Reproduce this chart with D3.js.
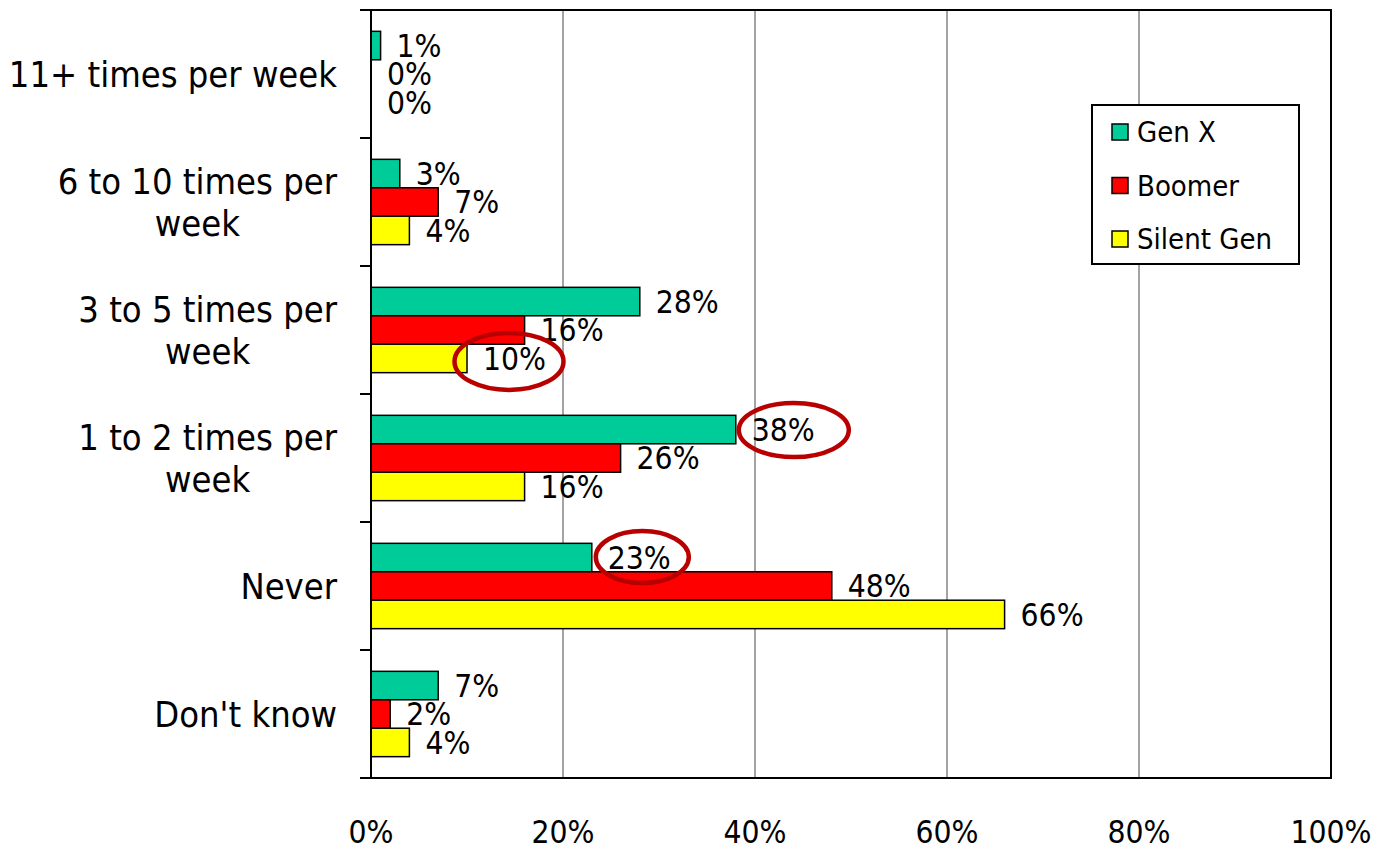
<!DOCTYPE html>
<html>
<head>
<meta charset="utf-8">
<script src="https://cdn.jsdelivr.net/npm/d3@7"></script>
<style>
  html, body { margin: 0; padding: 0; background: #fff; }
  svg { display: block; }
  .cat { font-family: "DejaVu Sans Condensed", "DejaVu Sans", sans-serif; font-size: 36px; fill: #000; }
  .val, .tick-label { font-family: "DejaVu Sans Condensed", "DejaVu Sans", sans-serif; font-size: 31.5px; fill: #000; }
  .legend-text { font-family: "DejaVu Sans Condensed", "DejaVu Sans", sans-serif; font-size: 29px; fill: #000; }
</style>
</head>
<body>
<svg id="chart" width="1387" height="850"></svg>
<script>
// Weekly frequency categories, top to bottom
const categories = [
  ["11+ times per week"],
  ["6 to 10 times per", "week"],
  ["3 to 5 times per", "week"],
  ["1 to 2 times per", "week"],
  ["Never"],
  ["Don't know"]
];
const seriesNames = ["Gen X", "Boomer", "Silent Gen"];
const seriesColors = ["#00cc99", "#ff0000", "#ffff00"];
const genX      = [1, 3, 28, 38, 23, 7];
const boomer    = [0, 7, 16, 26, 48, 2];
const silentGen = [0, 4, 10, 16, 66, 4];
const xTicks = [0, 20, 40, 60, 80, 100];
// Labels circled for emphasis: [category index, series index]
const highlights = [[2, 2], [3, 0], [4, 0]];
// Hand-drawn look of each circle: offset from the bar end, radii
const highlightShapes = [
  { dx: 42, dy: 3, rx: 54.5, ry: 28.5 },
  { dx: 58, dy: 0.5, rx: 55, ry: 27 },
  { dx: 50.5, dy: -0.5, rx: 46.5, ry: 26 }
];

const seriesValues = [genX, boomer, silentGen];

const svg = d3.select("#chart");
const plotLeft = 371, plotRight = 1331, plotTop = 10, plotBottom = 778;

const x = d3.scaleLinear().domain([0, 100]).range([plotLeft, plotRight]);
const y = d3.scaleBand()
  .domain(d3.range(categories.length))
  .range([plotTop, plotBottom])
  .paddingInner(1 / 3)
  .paddingOuter(1 / 6);
const ySub = d3.scaleBand()
  .domain(d3.range(seriesNames.length))
  .range([0, y.bandwidth()]);

// Vertical gridlines
svg.append("g")
  .selectAll("line")
  .data(xTicks.filter(t => t > 0 && t < 100))
  .join("line")
  .attr("x1", d => x(d)).attr("x2", d => x(d))
  .attr("y1", plotTop).attr("y2", plotBottom)
  .attr("stroke", "#868686").attr("stroke-width", 1.5);

// Bars
const groups = svg.append("g")
  .selectAll("g")
  .data(categories.map((c, i) => i))
  .join("g")
  .attr("transform", i => `translate(0,${y(i)})`);

groups.selectAll("rect")
  .data(i => seriesValues.map((vals, s) => ({ s, v: vals[i], cat: i })))
  .join("rect")
  .attr("x", x(0))
  .attr("y", d => ySub(d.s))
  .attr("width", d => x(d.v) - x(0))
  .attr("height", ySub.bandwidth())
  .attr("fill", d => seriesColors[d.s])
  .attr("stroke", "#000")
  .attr("stroke-width", d => d.v > 0 ? 1.5 : 0);

// Value labels
groups.selectAll("text")
  .data(i => seriesValues.map((vals, s) => ({ s, v: vals[i], cat: i })))
  .join("text")
  .attr("class", "val")
  .attr("x", d => x(d.v) + 16)
  .attr("y", d => ySub(d.s) + ySub.bandwidth() / 2)
  .attr("dy", "0.36em")
  .text(d => d.v + "%");

// Plot frame
svg.append("rect")
  .attr("x", plotLeft).attr("y", plotTop)
  .attr("width", plotRight - plotLeft).attr("height", plotBottom - plotTop)
  .attr("fill", "none").attr("stroke", "#000").attr("stroke-width", 2);

// Category axis ticks at band boundaries
const boundaries = d3.range(categories.length + 1).map(i => plotTop + i * y.step());
svg.append("g")
  .selectAll("line")
  .data(boundaries)
  .join("line")
  .attr("x1", plotLeft - 11).attr("x2", plotLeft)
  .attr("y1", d => d).attr("y2", d => d)
  .attr("stroke", "#000").attr("stroke-width", 2);

// Category labels: block right-aligned, lines centred within the block
const catRight = 337, lineGap = 42;
categories.forEach((lines, i) => {
  const cy = y(i) + y.bandwidth() / 2;
  const g = svg.append("g");
  const texts = lines.map((ln, k) => g.append("text")
    .attr("class", "cat")
    .attr("y", cy + (k - (lines.length - 1) / 2) * lineGap)
    .attr("dy", "0.36em")
    .attr("text-anchor", "middle")
    .text(ln));
  const maxW = d3.max(texts, t => t.node().getComputedTextLength());
  texts.forEach(t => t.attr("x", catRight - maxW / 2));
});

// X axis tick labels
svg.append("g")
  .selectAll("text")
  .data(xTicks)
  .join("text")
  .attr("class", "tick-label")
  .attr("x", d => x(d))
  .attr("y", 843)
  .attr("text-anchor", "middle")
  .text(d => d + "%");

// Emphasis ellipses around selected labels
highlights.forEach(([c, s], k) => {
  const shape = highlightShapes[k];
  const v = seriesValues[s][c];
  svg.append("ellipse")
    .attr("cx", x(v) + shape.dx)
    .attr("cy", y(c) + ySub(s) + ySub.bandwidth() / 2 + shape.dy)
    .attr("rx", shape.rx)
    .attr("ry", shape.ry)
    .attr("fill", "none")
    .attr("stroke", "#b80000")
    .attr("stroke-width", 4.5);
});

// Legend
const lg = svg.append("g").attr("transform", "translate(1092,105)");
lg.append("rect")
  .attr("width", 207).attr("height", 159)
  .attr("fill", "#fff").attr("stroke", "#000").attr("stroke-width", 2);
seriesNames.forEach((name, i) => {
  const cy = 27 + i * 53.5;
  lg.append("rect")
    .attr("x", 20).attr("y", cy - 8)
    .attr("width", 16).attr("height", 16)
    .attr("fill", seriesColors[i]).attr("stroke", "#000").attr("stroke-width", 1.5);
  lg.append("text")
    .attr("class", "legend-text")
    .attr("x", 45).attr("y", cy)
    .attr("dy", "0.36em")
    .text(name);
});
</script>
</body>
</html>
